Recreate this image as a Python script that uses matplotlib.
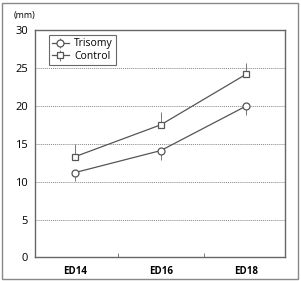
import numpy as np
import matplotlib.pyplot as plt
from matplotlib.patches import Rectangle

stages = ["ED14", "ED16", "ED18"]
trisomy = [11.2, 14.1, 20.0]
trisomy_err = [1.1, 1.2, 1.2]
control = [13.3, 17.5, 24.2]
control_err = [1.6, 1.7, 1.5]

plt.rcParams['font.family'] = ['Open Sans', 'DejaVu Sans']

fig = plt.figure(figsize=(3.01, 2.81), dpi=100)
fig.patches.append(Rectangle((0.007, 0.007), 0.984, 0.982, transform=fig.transFigure,
                             fill=False, edgecolor='#888888', linewidth=1.0))
ax = fig.add_axes([0.116, 0.084, 0.831, 0.809])

x = np.arange(len(stages))
lc = '#555555'
ax.errorbar(x, trisomy, yerr=[trisomy_err, [0] * 3], color=lc, lw=0.9, marker='o',
            ms=5, mfc='white', mec=lc, mew=0.9, elinewidth=0.7, ecolor='#777777',
            capsize=0, label='Trisomy')
ax.errorbar(x, control, yerr=[[0] * 3, control_err], color=lc, lw=0.9, marker='s',
            ms=4.5, mfc='white', mec=lc, mew=0.9, elinewidth=0.7, ecolor='#777777',
            capsize=0, label='Control')

ax.set_ylim(0, 30)
ax.set_xlim(-0.47, 2.45)
ax.set_yticks([0, 5, 10, 15, 20, 25, 30])
ax.set_xticks(x)
ax.set_xticklabels(stages, fontsize=7, fontweight='bold')
ax.tick_params(axis='y', length=0, labelsize=8, pad=5)
ax.tick_params(axis='x', length=0, pad=6)
ax.set_xticks([0.5, 1.5], minor=True)
ax.tick_params(axis='x', which='minor', direction='in', length=3, color='#666666')
for yv in [5, 10, 15, 20, 25]:
    ax.axhline(yv, color='#888888', lw=0.7, ls=(0, (1, 1)), zorder=0)
for s in ax.spines.values():
    s.set_color('#666666')
    s.set_linewidth(1.0)

fig.text(0.045, 0.945, "(mm)", fontsize=6.5, ha='left', va='center')

leg = ax.legend(loc='upper left', bbox_to_anchor=(0.035, 1.0), fontsize=7.5,
                frameon=True, fancybox=False, handlelength=1.6, borderpad=0.3,
                labelspacing=0.15, handletextpad=0.5)
leg.get_frame().set_edgecolor('#444444')
leg.get_frame().set_linewidth(0.8)

fig.savefig("out.png", dpi=100)
